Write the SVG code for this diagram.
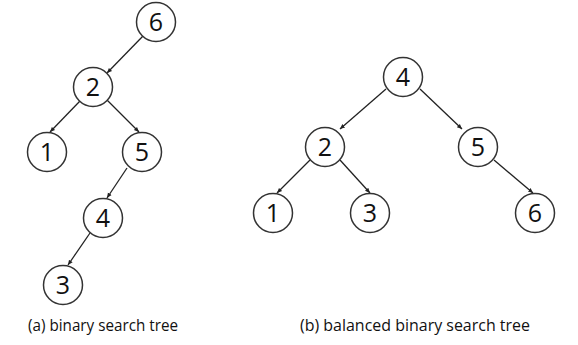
<svg xmlns="http://www.w3.org/2000/svg" width="578" height="345" viewBox="0 0 578 345">
<style>
.n circle{fill:#fff;stroke:#333;stroke-width:1.5}
.n text{font-family:"Open Sans","Liberation Sans",sans-serif;font-size:25px;fill:#111;text-anchor:middle}
.e line{stroke:#222;stroke-width:1.3;marker-end:url(#ah)}
.cap{font-family:"Open Sans","Liberation Sans",sans-serif;font-size:15.5px;fill:#111}
</style>
<defs>
<marker id="ah" markerWidth="6" markerHeight="6" refX="5" refY="3" orient="auto" markerUnits="userSpaceOnUse">
<path d="M0,0.8 L5,3 L0,5.2 Z" fill="#222"/>
</marker>
</defs>
<rect width="578" height="345" fill="#fff"/>
<g id="connectors" class="e">
<line x1="143" y1="36" x2="107" y2="73"/>
<line x1="80" y1="101" x2="50" y2="132"/>
<line x1="107" y1="100" x2="139" y2="132"/>
<line x1="127" y1="168" x2="107" y2="198"/>
<line x1="90" y1="233" x2="68" y2="265"/>
<line x1="386" y1="89" x2="340" y2="129"/>
<line x1="420" y1="89" x2="462" y2="129"/>
<line x1="310" y1="160" x2="277" y2="193"/>
<line x1="340" y1="160" x2="370" y2="193"/>
<line x1="494" y1="160" x2="533" y2="193"/>
</g>
<g id="a6" class="n"><circle cx="156" cy="22" r="19.5"/><text x="156" y="31">6</text></g>
<g id="a2" class="n"><circle cx="93" cy="87" r="19.5"/><text x="93" y="96">2</text></g>
<g id="a1" class="n"><circle cx="47" cy="152" r="19.5"/><text x="47" y="161">1</text></g>
<g id="a5" class="n"><circle cx="142" cy="152" r="19.5"/><text x="142" y="161">5</text></g>
<g id="a4" class="n"><circle cx="103" cy="218" r="19.5"/><text x="103" y="227">4</text></g>
<g id="a3" class="n"><circle cx="63" cy="285" r="19.5"/><text x="63" y="294">3</text></g>
<g id="b4" class="n"><circle cx="403" cy="77" r="19.5"/><text x="403" y="86">4</text></g>
<g id="b2" class="n"><circle cx="325" cy="147" r="19.5"/><text x="325" y="156">2</text></g>
<g id="b5" class="n"><circle cx="478" cy="147" r="19.5"/><text x="478" y="156">5</text></g>
<g id="b1" class="n"><circle cx="273" cy="213" r="19.5"/><text x="273" y="222">1</text></g>
<g id="b3" class="n"><circle cx="370" cy="213" r="19.5"/><text x="370" y="222">3</text></g>
<g id="b6" class="n"><circle cx="535" cy="213" r="19.5"/><text x="535" y="222">6</text></g>
<text class="cap" x="28" y="331" textLength="150" lengthAdjust="spacingAndGlyphs">(a) binary search tree</text>
<text class="cap" x="300" y="331" textLength="230" lengthAdjust="spacingAndGlyphs">(b) balanced binary search tree</text>
</svg>
